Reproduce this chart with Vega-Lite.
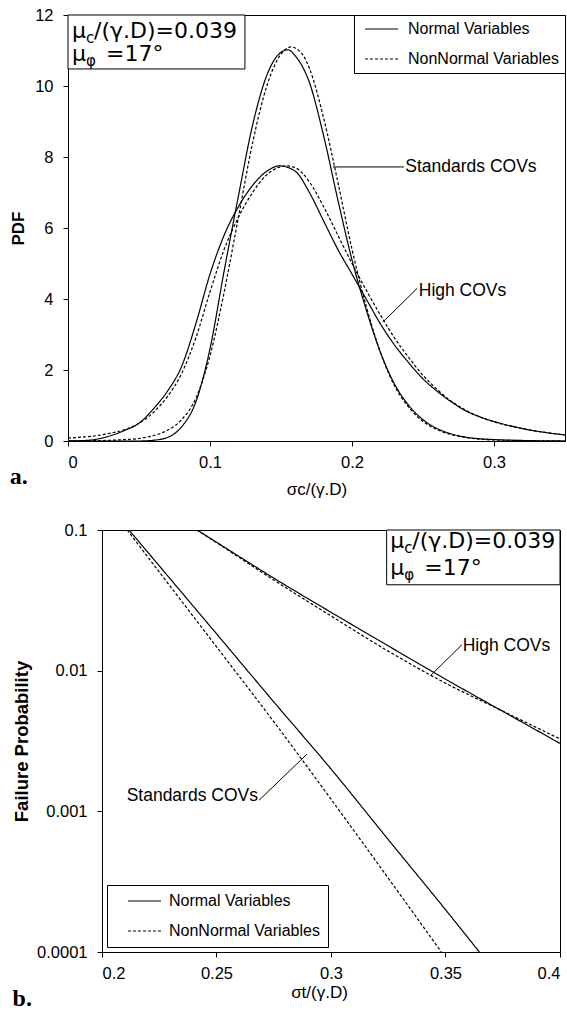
{
  "$schema": "https://vega.github.io/schema/vega-lite/v6.json",
  "background": "white",
  "padding": {"left": 9, "top": 6, "right": 0, "bottom": 0},
  "spacing": 23,
  "config": {
    "font": "Liberation Sans",
    "view": {"stroke": "black", "strokeWidth": 1},
    "axis": {
      "grid": false,
      "domainColor": "black",
      "tickColor": "black",
      "tickSize": 5,
      "labelFont": "Liberation Sans",
      "labelFontSize": 16.5,
      "labelColor": "black",
      "titleColor": "black",
      "titleFont": "Liberation Sans"
    },
    "axisX": {"labelPadding": 8, "titleFontSize": 17, "titleFontWeight": "normal"},
    "axisY": {"labelPadding": 10, "titleFontWeight": "bold", "titlePadding": 7},
    "legend": {
      "title": null,
      "strokeColor": "black",
      "fillColor": "white",
      "labelFont": "Liberation Sans",
      "labelFontSize": 16,
      "labelColor": "black",
      "symbolSize": 100,
      "symbolStrokeWidth": 1.2,
      "symbolStrokeColor": "black",
      "symbolFillColor": "transparent",
      "rowPadding": 14
    },
    "title": {"font": "Liberation Serif", "fontSize": 24, "fontWeight": "bold", "color": "black", "orient": "bottom", "anchor": "start", "frame": "bounds"}
  },
  "resolve": {
    "scale": {"x": "independent", "y": "independent", "strokeDash": "independent"},
    "legend": {"strokeDash": "independent"}
  },
  "vconcat": [
    {
      "width": 497,
      "height": 426,
      "title": {"text": "a.", "offset": -33},
      "encoding": {
        "x": {
          "field": "x", "type": "quantitative",
          "scale": {"domain": [0, 0.35], "nice": false, "zero": false},
          "axis": {"values": [0, 0.1, 0.2, 0.3], "format": "~g", "title": "σc/(γ.D)", "titlePadding": 11}
        },
        "y": {
          "field": "y", "type": "quantitative",
          "scale": {"domain": [0, 12], "nice": false},
          "axis": {"values": [0, 2, 4, 6, 8, 10, 12], "title": "PDF", "titleFontSize": 17}
        }
      },
      "layer": [
        {
          "data": {"values": [
            {"x": 0, "y": 0, "c": "S", "v": "Normal Variables"},
            {"x": 0.03, "y": 0, "c": "S", "v": "Normal Variables"},
            {"x": 0.05, "y": 0, "c": "S", "v": "Normal Variables"},
            {"x": 0.06, "y": 0.02, "c": "S", "v": "Normal Variables"},
            {"x": 0.07, "y": 0.1, "c": "S", "v": "Normal Variables"},
            {"x": 0.08, "y": 0.4, "c": "S", "v": "Normal Variables"},
            {"x": 0.09, "y": 1.1, "c": "S", "v": "Normal Variables"},
            {"x": 0.10, "y": 2.6, "c": "S", "v": "Normal Variables"},
            {"x": 0.11, "y": 4.8, "c": "S", "v": "Normal Variables"},
            {"x": 0.12, "y": 6.9, "c": "S", "v": "Normal Variables"},
            {"x": 0.13, "y": 8.9, "c": "S", "v": "Normal Variables"},
            {"x": 0.14, "y": 10.3, "c": "S", "v": "Normal Variables"},
            {"x": 0.15, "y": 10.95, "c": "S", "v": "Normal Variables"},
            {"x": 0.155, "y": 11.02, "c": "S", "v": "Normal Variables"},
            {"x": 0.16, "y": 10.85, "c": "S", "v": "Normal Variables"},
            {"x": 0.17, "y": 10.1, "c": "S", "v": "Normal Variables"},
            {"x": 0.18, "y": 8.6, "c": "S", "v": "Normal Variables"},
            {"x": 0.19, "y": 6.8, "c": "S", "v": "Normal Variables"},
            {"x": 0.20, "y": 5.1, "c": "S", "v": "Normal Variables"},
            {"x": 0.21, "y": 3.7, "c": "S", "v": "Normal Variables"},
            {"x": 0.22, "y": 2.5, "c": "S", "v": "Normal Variables"},
            {"x": 0.23, "y": 1.6, "c": "S", "v": "Normal Variables"},
            {"x": 0.24, "y": 1.0, "c": "S", "v": "Normal Variables"},
            {"x": 0.25, "y": 0.6, "c": "S", "v": "Normal Variables"},
            {"x": 0.26, "y": 0.35, "c": "S", "v": "Normal Variables"},
            {"x": 0.27, "y": 0.2, "c": "S", "v": "Normal Variables"},
            {"x": 0.28, "y": 0.11, "c": "S", "v": "Normal Variables"},
            {"x": 0.30, "y": 0.04, "c": "S", "v": "Normal Variables"},
            {"x": 0.32, "y": 0.015, "c": "S", "v": "Normal Variables"},
            {"x": 0.35, "y": 0, "c": "S", "v": "Normal Variables"},

            {"x": 0, "y": 0, "c": "S", "v": "NonNormal Variables"},
            {"x": 0.02, "y": 0.01, "c": "S", "v": "NonNormal Variables"},
            {"x": 0.04, "y": 0.04, "c": "S", "v": "NonNormal Variables"},
            {"x": 0.05, "y": 0.07, "c": "S", "v": "NonNormal Variables"},
            {"x": 0.06, "y": 0.15, "c": "S", "v": "NonNormal Variables"},
            {"x": 0.07, "y": 0.3, "c": "S", "v": "NonNormal Variables"},
            {"x": 0.08, "y": 0.6, "c": "S", "v": "NonNormal Variables"},
            {"x": 0.09, "y": 1.2, "c": "S", "v": "NonNormal Variables"},
            {"x": 0.10, "y": 2.4, "c": "S", "v": "NonNormal Variables"},
            {"x": 0.11, "y": 4.2, "c": "S", "v": "NonNormal Variables"},
            {"x": 0.12, "y": 6.3, "c": "S", "v": "NonNormal Variables"},
            {"x": 0.13, "y": 8.4, "c": "S", "v": "NonNormal Variables"},
            {"x": 0.14, "y": 10.0, "c": "S", "v": "NonNormal Variables"},
            {"x": 0.15, "y": 10.9, "c": "S", "v": "NonNormal Variables"},
            {"x": 0.157, "y": 11.1, "c": "S", "v": "NonNormal Variables"},
            {"x": 0.165, "y": 10.9, "c": "S", "v": "NonNormal Variables"},
            {"x": 0.17, "y": 10.5, "c": "S", "v": "NonNormal Variables"},
            {"x": 0.18, "y": 9.1, "c": "S", "v": "NonNormal Variables"},
            {"x": 0.19, "y": 7.3, "c": "S", "v": "NonNormal Variables"},
            {"x": 0.20, "y": 5.4, "c": "S", "v": "NonNormal Variables"},
            {"x": 0.21, "y": 3.8, "c": "S", "v": "NonNormal Variables"},
            {"x": 0.22, "y": 2.5, "c": "S", "v": "NonNormal Variables"},
            {"x": 0.23, "y": 1.55, "c": "S", "v": "NonNormal Variables"},
            {"x": 0.24, "y": 0.95, "c": "S", "v": "NonNormal Variables"},
            {"x": 0.25, "y": 0.55, "c": "S", "v": "NonNormal Variables"},
            {"x": 0.26, "y": 0.32, "c": "S", "v": "NonNormal Variables"},
            {"x": 0.27, "y": 0.18, "c": "S", "v": "NonNormal Variables"},
            {"x": 0.28, "y": 0.1, "c": "S", "v": "NonNormal Variables"},
            {"x": 0.30, "y": 0.03, "c": "S", "v": "NonNormal Variables"},
            {"x": 0.35, "y": 0, "c": "S", "v": "NonNormal Variables"},

            {"x": 0, "y": 0, "c": "H", "v": "Normal Variables"},
            {"x": 0.01, "y": 0.01, "c": "H", "v": "Normal Variables"},
            {"x": 0.02, "y": 0.05, "c": "H", "v": "Normal Variables"},
            {"x": 0.03, "y": 0.15, "c": "H", "v": "Normal Variables"},
            {"x": 0.04, "y": 0.3, "c": "H", "v": "Normal Variables"},
            {"x": 0.05, "y": 0.5, "c": "H", "v": "Normal Variables"},
            {"x": 0.06, "y": 0.9, "c": "H", "v": "Normal Variables"},
            {"x": 0.07, "y": 1.4, "c": "H", "v": "Normal Variables"},
            {"x": 0.08, "y": 2.1, "c": "H", "v": "Normal Variables"},
            {"x": 0.09, "y": 3.3, "c": "H", "v": "Normal Variables"},
            {"x": 0.10, "y": 4.7, "c": "H", "v": "Normal Variables"},
            {"x": 0.11, "y": 5.8, "c": "H", "v": "Normal Variables"},
            {"x": 0.12, "y": 6.6, "c": "H", "v": "Normal Variables"},
            {"x": 0.13, "y": 7.2, "c": "H", "v": "Normal Variables"},
            {"x": 0.14, "y": 7.6, "c": "H", "v": "Normal Variables"},
            {"x": 0.149, "y": 7.75, "c": "H", "v": "Normal Variables"},
            {"x": 0.16, "y": 7.6, "c": "H", "v": "Normal Variables"},
            {"x": 0.17, "y": 7.0, "c": "H", "v": "Normal Variables"},
            {"x": 0.18, "y": 6.2, "c": "H", "v": "Normal Variables"},
            {"x": 0.19, "y": 5.4, "c": "H", "v": "Normal Variables"},
            {"x": 0.20, "y": 4.7, "c": "H", "v": "Normal Variables"},
            {"x": 0.21, "y": 4.0, "c": "H", "v": "Normal Variables"},
            {"x": 0.22, "y": 3.3, "c": "H", "v": "Normal Variables"},
            {"x": 0.23, "y": 2.7, "c": "H", "v": "Normal Variables"},
            {"x": 0.24, "y": 2.2, "c": "H", "v": "Normal Variables"},
            {"x": 0.25, "y": 1.75, "c": "H", "v": "Normal Variables"},
            {"x": 0.26, "y": 1.4, "c": "H", "v": "Normal Variables"},
            {"x": 0.27, "y": 1.1, "c": "H", "v": "Normal Variables"},
            {"x": 0.28, "y": 0.85, "c": "H", "v": "Normal Variables"},
            {"x": 0.29, "y": 0.68, "c": "H", "v": "Normal Variables"},
            {"x": 0.30, "y": 0.55, "c": "H", "v": "Normal Variables"},
            {"x": 0.32, "y": 0.35, "c": "H", "v": "Normal Variables"},
            {"x": 0.35, "y": 0.17, "c": "H", "v": "Normal Variables"},

            {"x": 0, "y": 0.08, "c": "H", "v": "NonNormal Variables"},
            {"x": 0.01, "y": 0.11, "c": "H", "v": "NonNormal Variables"},
            {"x": 0.02, "y": 0.15, "c": "H", "v": "NonNormal Variables"},
            {"x": 0.03, "y": 0.22, "c": "H", "v": "NonNormal Variables"},
            {"x": 0.04, "y": 0.32, "c": "H", "v": "NonNormal Variables"},
            {"x": 0.05, "y": 0.5, "c": "H", "v": "NonNormal Variables"},
            {"x": 0.06, "y": 0.8, "c": "H", "v": "NonNormal Variables"},
            {"x": 0.07, "y": 1.25, "c": "H", "v": "NonNormal Variables"},
            {"x": 0.08, "y": 1.9, "c": "H", "v": "NonNormal Variables"},
            {"x": 0.09, "y": 2.9, "c": "H", "v": "NonNormal Variables"},
            {"x": 0.10, "y": 4.2, "c": "H", "v": "NonNormal Variables"},
            {"x": 0.11, "y": 5.4, "c": "H", "v": "NonNormal Variables"},
            {"x": 0.12, "y": 6.3, "c": "H", "v": "NonNormal Variables"},
            {"x": 0.13, "y": 7.0, "c": "H", "v": "NonNormal Variables"},
            {"x": 0.14, "y": 7.5, "c": "H", "v": "NonNormal Variables"},
            {"x": 0.154, "y": 7.75, "c": "H", "v": "NonNormal Variables"},
            {"x": 0.16, "y": 7.7, "c": "H", "v": "NonNormal Variables"},
            {"x": 0.17, "y": 7.3, "c": "H", "v": "NonNormal Variables"},
            {"x": 0.18, "y": 6.6, "c": "H", "v": "NonNormal Variables"},
            {"x": 0.19, "y": 5.8, "c": "H", "v": "NonNormal Variables"},
            {"x": 0.20, "y": 5.0, "c": "H", "v": "NonNormal Variables"},
            {"x": 0.21, "y": 4.25, "c": "H", "v": "NonNormal Variables"},
            {"x": 0.22, "y": 3.55, "c": "H", "v": "NonNormal Variables"},
            {"x": 0.23, "y": 2.9, "c": "H", "v": "NonNormal Variables"},
            {"x": 0.24, "y": 2.35, "c": "H", "v": "NonNormal Variables"},
            {"x": 0.25, "y": 1.85, "c": "H", "v": "NonNormal Variables"},
            {"x": 0.26, "y": 1.45, "c": "H", "v": "NonNormal Variables"},
            {"x": 0.27, "y": 1.12, "c": "H", "v": "NonNormal Variables"},
            {"x": 0.28, "y": 0.87, "c": "H", "v": "NonNormal Variables"},
            {"x": 0.29, "y": 0.68, "c": "H", "v": "NonNormal Variables"},
            {"x": 0.30, "y": 0.54, "c": "H", "v": "NonNormal Variables"},
            {"x": 0.32, "y": 0.35, "c": "H", "v": "NonNormal Variables"},
            {"x": 0.35, "y": 0.17, "c": "H", "v": "NonNormal Variables"}
          ]},
          "mark": {"type": "line", "color": "black", "strokeWidth": 1.2, "interpolate": "monotone", "clip": true},
          "encoding": {
            "strokeDash": {
              "field": "v", "type": "nominal",
              "scale": {"domain": ["Normal Variables", "NonNormal Variables"], "range": [[1, 0], [3, 2]]},
              "legend": {"orient": "top-right", "offset": 0, "padding": 6, "symbolType": "M-0.6,0H6", "labelOffset": 32}
            },
            "detail": {"field": "c", "type": "nominal"}
          }
        },
        {
          "data": {"values": [
            {"x": 0.1866, "y": 7.72, "x2": 0.2366, "y2": 7.72},
            {"x": 0.2217, "y": 3.35, "x2": 0.2459, "y2": 4.3}
          ]},
          "mark": {"type": "rule", "color": "black", "strokeWidth": 1},
          "encoding": {"x2": {"field": "x2"}, "y2": {"field": "y2"}}
        },
        {
          "data": {"values": [
            {"x": 0.2375, "y": 7.72, "t": "Standards COVs"},
            {"x": 0.247, "y": 4.23, "t": "High COVs"}
          ]},
          "mark": {"type": "text", "align": "left", "baseline": "middle", "fontSize": 17.5, "font": "Liberation Sans", "color": "black"},
          "encoding": {"text": {"field": "t"}}
        },
        {
          "data": {"values": [{"x": 0, "x2": 0.1246, "y": 10.48, "y2": 12}]},
          "mark": {"type": "rect", "fill": "white", "stroke": "black", "strokeWidth": 1},
          "encoding": {"x2": {"field": "x2"}, "y2": {"field": "y2"}}
        },
        {
          "data": {"values": [{"x": 0.0028, "y": 11.36, "t": "μ"}, {"x": 0.0028, "y": 10.70, "t": "μ"}]},
          "mark": {"type": "text", "align": "left", "baseline": "alphabetic", "font": "DejaVu Sans", "fontSize": 22, "color": "black"},
          "encoding": {"text": {"field": "t"}}
        },
        {
          "data": {"values": [{"x": 0.0028, "y": 11.36, "t": "c"}, {"x": 0.0028, "y": 10.70, "t": "φ"}]},
          "mark": {"type": "text", "align": "left", "baseline": "alphabetic", "font": "DejaVu Sans", "fontSize": 15, "dx": 14, "dy": 5, "color": "black"},
          "encoding": {"text": {"field": "t"}}
        },
        {
          "data": {"values": [{"x": 0.0028, "y": 11.36, "t": "/(γ.D)=0.039"}]},
          "mark": {"type": "text", "align": "left", "baseline": "alphabetic", "font": "DejaVu Sans", "fontSize": 22, "dx": 22, "color": "black"},
          "encoding": {"text": {"field": "t"}}
        },
        {
          "data": {"values": [{"x": 0.0028, "y": 10.70, "t": "=17°"}]},
          "mark": {"type": "text", "align": "left", "baseline": "alphabetic", "font": "DejaVu Sans", "fontSize": 22, "dx": 34, "color": "black"},
          "encoding": {"text": {"field": "t"}}
        }
      ]
    },
    {
      "spacing": -60,
      "resolve": {"scale": {"strokeDash": "independent"}, "legend": {"strokeDash": "independent"}},
      "hconcat": [
        {
          "width": 1,
          "height": 1,
          "view": {"stroke": null},
          "data": {"values": [{"x": 0}]},
          "mark": {"type": "point", "opacity": 0},
          "encoding": {}
        },
        {
          "width": 458,
          "height": 422,
          "title": {"text": "b.", "offset": -14},
          "encoding": {
            "x": {
              "field": "x", "type": "quantitative",
              "scale": {"domain": [0.2, 0.4], "nice": false, "zero": false},
              "axis": {"values": [0.2, 0.25, 0.3, 0.35, 0.4], "format": "~g", "title": "σt/(γ.D)", "titlePadding": 3, "titleX": 217}
            },
            "y": {
              "field": "y", "type": "quantitative",
              "scale": {"type": "log", "domain": [0.0001, 0.1], "nice": false},
              "axis": {"values": [0.0001, 0.001, 0.01, 0.1], "format": "~g", "title": "Failure Probability", "titleFontSize": 18.5, "titlePadding": 5}
            }
          },
          "layer": [
            {
              "data": {"values": [
                {"x": 0.2118, "y": 0.1, "c": "S", "v": "Normal Variables"},
                {"x": 0.225, "y": 0.0556, "c": "S", "v": "Normal Variables"},
                {"x": 0.25, "y": 0.0183, "c": "S", "v": "Normal Variables"},
                {"x": 0.275, "y": 0.006, "c": "S", "v": "Normal Variables"},
                {"x": 0.30, "y": 0.002, "c": "S", "v": "Normal Variables"},
                {"x": 0.325, "y": 0.00063, "c": "S", "v": "Normal Variables"},
                {"x": 0.35, "y": 0.0002, "c": "S", "v": "Normal Variables"},
                {"x": 0.3648, "y": 0.0001, "c": "S", "v": "Normal Variables"},

                {"x": 0.211, "y": 0.1, "c": "S", "v": "NonNormal Variables"},
                {"x": 0.225, "y": 0.0503, "c": "S", "v": "NonNormal Variables"},
                {"x": 0.25, "y": 0.0148, "c": "S", "v": "NonNormal Variables"},
                {"x": 0.275, "y": 0.00434, "c": "S", "v": "NonNormal Variables"},
                {"x": 0.30, "y": 0.00122, "c": "S", "v": "NonNormal Variables"},
                {"x": 0.325, "y": 0.000335, "c": "S", "v": "NonNormal Variables"},
                {"x": 0.3482, "y": 0.0001, "c": "S", "v": "NonNormal Variables"},

                {"x": 0.2415, "y": 0.1, "c": "H", "v": "Normal Variables"},
                {"x": 0.25, "y": 0.0819, "c": "H", "v": "Normal Variables"},
                {"x": 0.275, "y": 0.0455, "c": "H", "v": "Normal Variables"},
                {"x": 0.30, "y": 0.026, "c": "H", "v": "Normal Variables"},
                {"x": 0.325, "y": 0.015, "c": "H", "v": "Normal Variables"},
                {"x": 0.35, "y": 0.0087, "c": "H", "v": "Normal Variables"},
                {"x": 0.375, "y": 0.00514, "c": "H", "v": "Normal Variables"},
                {"x": 0.40, "y": 0.00304, "c": "H", "v": "Normal Variables"},

                {"x": 0.2415, "y": 0.1, "c": "H", "v": "NonNormal Variables"},
                {"x": 0.25, "y": 0.0813, "c": "H", "v": "NonNormal Variables"},
                {"x": 0.275, "y": 0.0441, "c": "H", "v": "NonNormal Variables"},
                {"x": 0.30, "y": 0.0245, "c": "H", "v": "NonNormal Variables"},
                {"x": 0.325, "y": 0.01377, "c": "H", "v": "NonNormal Variables"},
                {"x": 0.35, "y": 0.00815, "c": "H", "v": "NonNormal Variables"},
                {"x": 0.375, "y": 0.00516, "c": "H", "v": "NonNormal Variables"},
                {"x": 0.40, "y": 0.00327, "c": "H", "v": "NonNormal Variables"}
              ]},
              "mark": {"type": "line", "color": "black", "strokeWidth": 1.2, "interpolate": "monotone", "clip": true},
              "encoding": {
                "strokeDash": {
                  "field": "v", "type": "nominal",
                  "scale": {"domain": ["Normal Variables", "NonNormal Variables"], "range": [[1, 0], [3, 2]]},
                  "legend": {"orient": "bottom-left", "offset": 5, "padding": 8, "symbolType": "M1,0H7.6", "labelOffset": 38}
                },
                "detail": {"field": "c", "type": "nominal"}
              }
            },
            {
              "data": {"values": [
                {"x": 0.3434, "y": 0.0092, "x2": 0.3572, "y2": 0.0153},
                {"x": 0.2686, "y": 0.0012, "x2": 0.2895, "y2": 0.00255}
              ]},
              "mark": {"type": "rule", "color": "black", "strokeWidth": 1},
              "encoding": {"x2": {"field": "x2"}, "y2": {"field": "y2"}}
            },
            {
              "data": {"values": [{"x": 0.3575, "y": 0.0149, "t": "High COVs"}]},
              "mark": {"type": "text", "align": "left", "baseline": "middle", "fontSize": 17.5, "font": "Liberation Sans", "color": "black"},
              "encoding": {"text": {"field": "t"}}
            },
            {
              "data": {"values": [{"x": 0.2681, "y": 0.00128, "t": "Standards COVs"}]},
              "mark": {"type": "text", "align": "right", "baseline": "middle", "fontSize": 17.5, "font": "Liberation Sans", "color": "black"},
              "encoding": {"text": {"field": "t"}}
            },
            {
              "data": {"values": [{"x": 0.3243, "x2": 0.4, "y": 0.0408, "y2": 0.1}]},
              "mark": {"type": "rect", "fill": "white", "stroke": "black", "strokeWidth": 1},
              "encoding": {"x2": {"field": "x2"}, "y2": {"field": "y2"}}
            },
            {
              "data": {"values": [{"x": 0.3259, "y": 0.0748, "t": "μ"}, {"x": 0.3259, "y": 0.0479, "t": "μ"}]},
              "mark": {"type": "text", "align": "left", "baseline": "alphabetic", "font": "DejaVu Sans", "fontSize": 22, "color": "black"},
              "encoding": {"text": {"field": "t"}}
            },
            {
              "data": {"values": [{"x": 0.3259, "y": 0.0748, "t": "c"}, {"x": 0.3259, "y": 0.0479, "t": "φ"}]},
              "mark": {"type": "text", "align": "left", "baseline": "alphabetic", "font": "DejaVu Sans", "fontSize": 15, "dx": 14, "dy": 5, "color": "black"},
              "encoding": {"text": {"field": "t"}}
            },
            {
              "data": {"values": [{"x": 0.3259, "y": 0.0748, "t": "/(γ.D)=0.039"}]},
              "mark": {"type": "text", "align": "left", "baseline": "alphabetic", "font": "DejaVu Sans", "fontSize": 22, "dx": 22, "color": "black"},
              "encoding": {"text": {"field": "t"}}
            },
            {
              "data": {"values": [{"x": 0.3259, "y": 0.0479, "t": "=17°"}]},
              "mark": {"type": "text", "align": "left", "baseline": "alphabetic", "font": "DejaVu Sans", "fontSize": 22, "dx": 34, "color": "black"},
              "encoding": {"text": {"field": "t"}}
            }
          ]
        }
      ]
    }
  ]
}
